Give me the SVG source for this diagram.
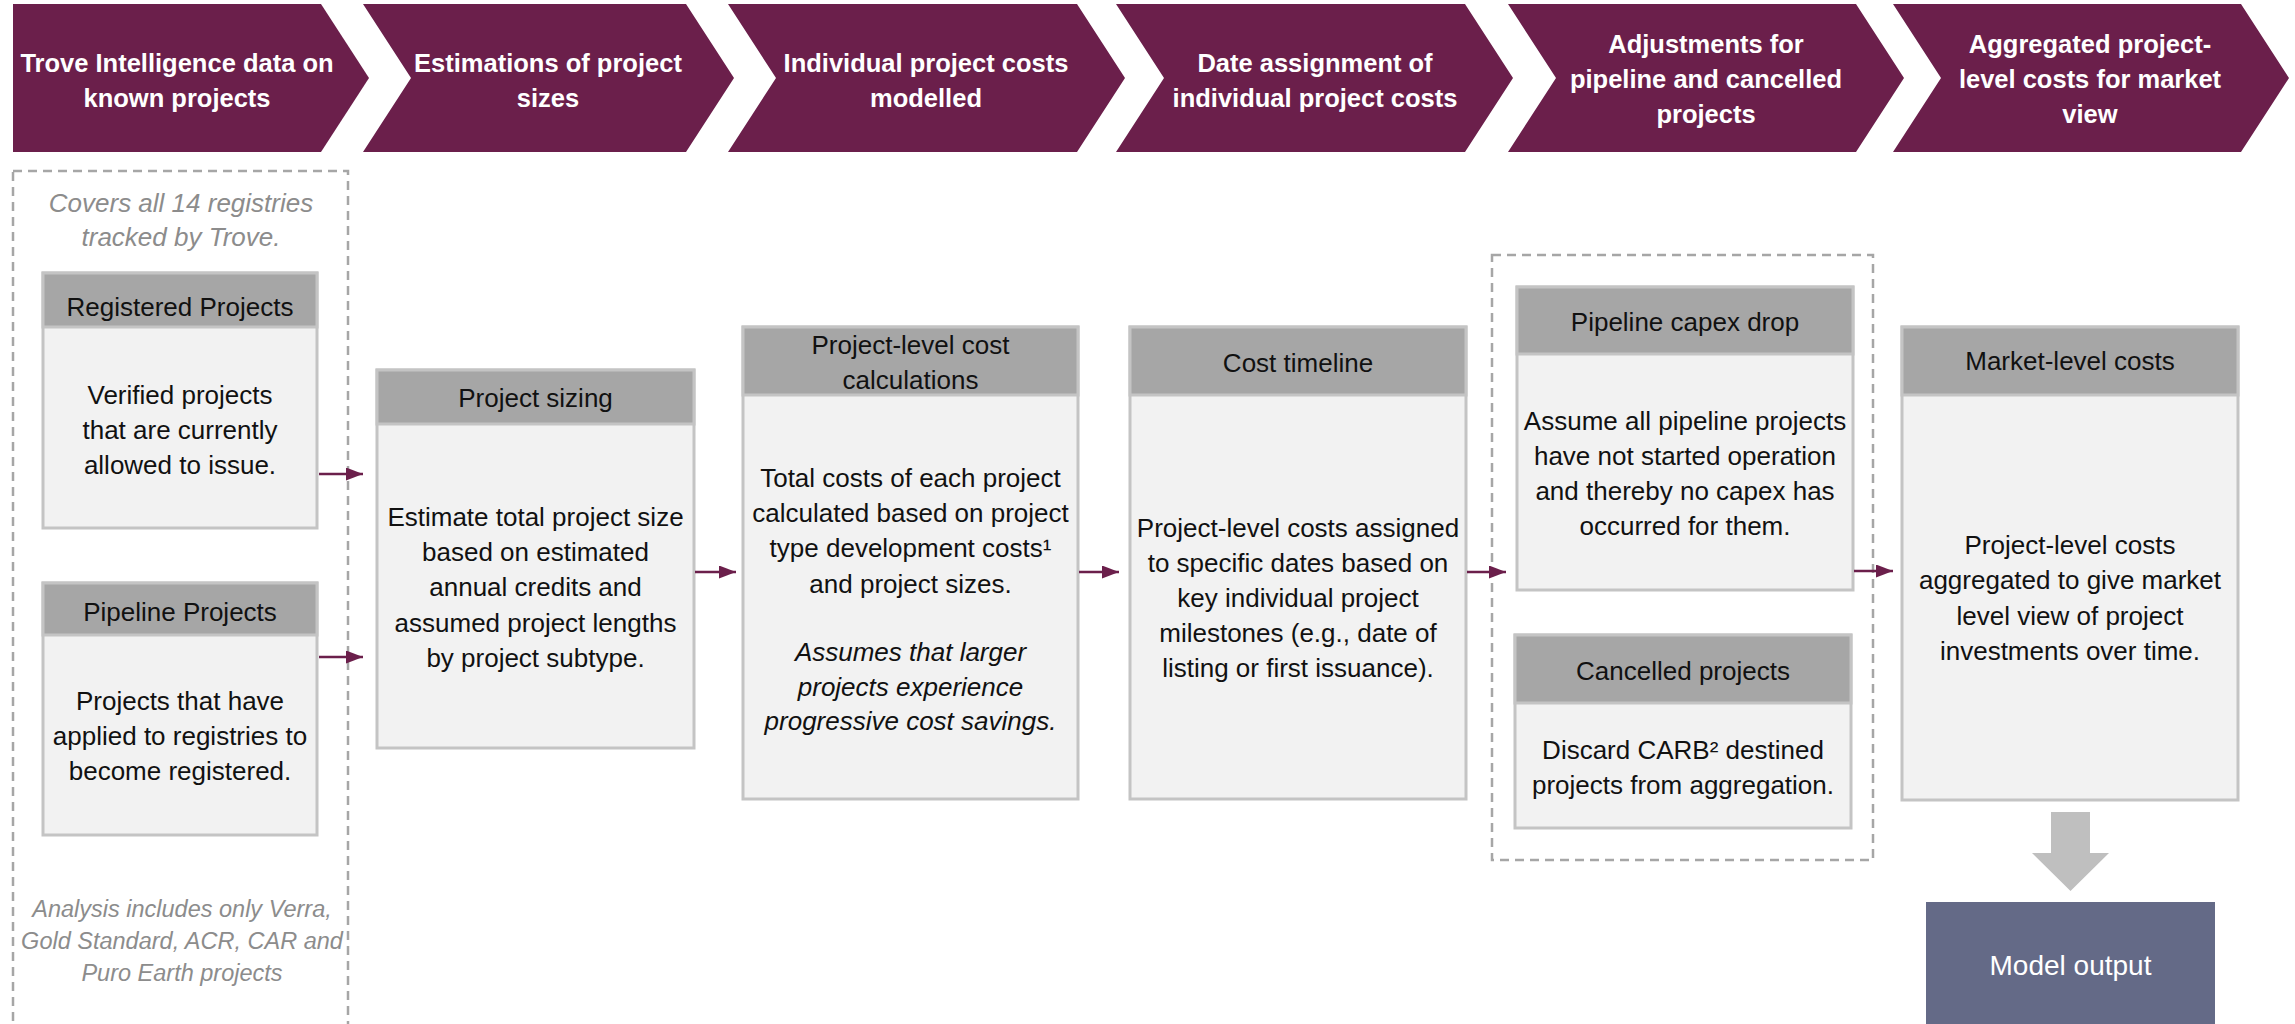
<svg xmlns="http://www.w3.org/2000/svg" width="2295" height="1024" viewBox="0 0 2295 1024">
<defs>
<style>
.chev{fill:#6b1f4b}
.ct{font-family:"Liberation Sans",Arial,sans-serif;font-weight:bold;font-size:25.5px;fill:#ffffff;text-anchor:middle}
.body{fill:#f2f2f2;stroke:#c4c4c4;stroke-width:3}
.head{fill:#a6a6a6;stroke:#c4c4c4;stroke-width:3}
.t{font-family:"Liberation Sans",Arial,sans-serif;font-size:26px;fill:#111111;text-anchor:middle}
.ti{font-family:"Liberation Sans",Arial,sans-serif;font-size:26px;font-style:italic;fill:#111111;text-anchor:middle}
.tg{font-family:"Liberation Sans",Arial,sans-serif;font-size:26px;font-style:italic;fill:#8c8c8c;text-anchor:middle}
.tgs{font-family:"Liberation Sans",Arial,sans-serif;font-size:23.5px;font-style:italic;fill:#8c8c8c;text-anchor:middle}
.dash{fill:none;stroke:#a6a6a6;stroke-width:2.5;stroke-dasharray:9 6}
.conn{stroke:#6b1f4b;stroke-width:2.5;fill:none}
</style>
<marker id="ah" markerUnits="userSpaceOnUse" markerWidth="17" markerHeight="13" refX="17" refY="6.5" orient="auto">
<path d="M0,0 L17,6.5 L0,13 z" fill="#6b1f4b"/>
</marker>
</defs>
<rect width="2295" height="1024" fill="#ffffff"/>

<g id="chevron1">
<polygon class="chev" points="13,4 321,4 369,78 321,152 13,152"/>
<text class="ct" x="177" y="72">Trove Intelligence data on</text>
<text class="ct" x="177" y="107">known projects</text>
</g>
<g id="chevron2">
<polygon class="chev" points="363,4 686,4 734,78 686,152 363,152 411,78"/>
<text class="ct" x="548" y="72">Estimations of project</text>
<text class="ct" x="548" y="107">sizes</text>
</g>
<g id="chevron3">
<polygon class="chev" points="728,4 1077,4 1125,78 1077,152 728,152 776,78"/>
<text class="ct" x="926" y="72">Individual project costs</text>
<text class="ct" x="926" y="107">modelled</text>
</g>
<g id="chevron4">
<polygon class="chev" points="1116,4 1465,4 1513,78 1465,152 1116,152 1164,78"/>
<text class="ct" x="1315" y="72">Date assignment of</text>
<text class="ct" x="1315" y="107">individual project costs</text>
</g>
<g id="chevron5">
<polygon class="chev" points="1508,4 1856,4 1904,78 1856,152 1508,152 1556,78"/>
<text class="ct" x="1706" y="53">Adjustments for</text>
<text class="ct" x="1706" y="88">pipeline and cancelled</text>
<text class="ct" x="1706" y="123">projects</text>
</g>
<g id="chevron6">
<polygon class="chev" points="1893,4 2241,4 2289,78 2241,152 1893,152 1941,78"/>
<text class="ct" x="2090" y="53">Aggregated project-</text>
<text class="ct" x="2090" y="88">level costs for market</text>
<text class="ct" x="2090" y="123">view</text>
</g>

<g id="group-sources">
<rect class="dash" x="13" y="171" width="335" height="870"/>
<text class="tg" x="181" y="212">Covers all 14 registries</text>
<text class="tg" x="181" y="246">tracked by Trove.</text>
<text class="tgs" x="182" y="917">Analysis includes only Verra,</text>
<text class="tgs" x="182" y="949">Gold Standard, ACR, CAR and</text>
<text class="tgs" x="182" y="981">Puro Earth projects</text>
</g>

<g id="registered-projects">
<rect class="body" x="43" y="273" width="274" height="255"/>
<rect class="head" x="43" y="273" width="274" height="54"/>
<text class="t" x="180" y="316">Registered Projects</text>
<text class="t" x="180" y="404">Verified projects</text>
<text class="t" x="180" y="439">that are currently</text>
<text class="t" x="180" y="474">allowed to issue.</text>
</g>

<g id="pipeline-projects">
<rect class="body" x="43" y="583" width="274" height="252"/>
<rect class="head" x="43" y="583" width="274" height="52"/>
<text class="t" x="180" y="621">Pipeline Projects</text>
<text class="t" x="180" y="710">Projects that have</text>
<text class="t" x="180" y="745">applied to registries to</text>
<text class="t" x="180" y="780">become registered.</text>
</g>

<g id="project-sizing">
<rect class="body" x="377" y="370" width="317" height="378"/>
<rect class="head" x="377" y="370" width="317" height="54"/>
<text class="t" x="535.5" y="407">Project sizing</text>
<text class="t" x="535.5" y="526">Estimate total project size</text>
<text class="t" x="535.5" y="561">based on estimated</text>
<text class="t" x="535.5" y="596">annual credits and</text>
<text class="t" x="535.5" y="632">assumed project lengths</text>
<text class="t" x="535.5" y="667">by project subtype.</text>
</g>

<g id="cost-calculations">
<rect class="body" x="743" y="327" width="335" height="472"/>
<rect class="head" x="743" y="327" width="335" height="68"/>
<text class="t" x="910.5" y="354">Project-level cost</text>
<text class="t" x="910.5" y="389">calculations</text>
<text class="t" x="910.5" y="487">Total costs of each project</text>
<text class="t" x="910.5" y="522">calculated based on project</text>
<text class="t" x="910.5" y="557">type development costs¹</text>
<text class="t" x="910.5" y="593">and project sizes.</text>
<text class="ti" x="910.5" y="661">Assumes that larger</text>
<text class="ti" x="910.5" y="696">projects experience</text>
<text class="ti" x="910.5" y="730">progressive cost savings.</text>
</g>

<g id="cost-timeline">
<rect class="body" x="1130" y="327" width="336" height="472"/>
<rect class="head" x="1130" y="327" width="336" height="68"/>
<text class="t" x="1298" y="372">Cost timeline</text>
<text class="t" x="1298" y="537">Project-level costs assigned</text>
<text class="t" x="1298" y="572">to specific dates based on</text>
<text class="t" x="1298" y="607">key individual project</text>
<text class="t" x="1298" y="642">milestones (e.g., date of</text>
<text class="t" x="1298" y="677">listing or first issuance).</text>
</g>

<g id="group-adjustments">
<rect class="dash" x="1492" y="255" width="381" height="605"/>
</g>

<g id="pipeline-capex-drop">
<rect class="body" x="1517" y="287" width="336" height="303"/>
<rect class="head" x="1517" y="287" width="336" height="67"/>
<text class="t" x="1685" y="331">Pipeline capex drop</text>
<text class="t" x="1685" y="430">Assume all pipeline projects</text>
<text class="t" x="1685" y="465">have not started operation</text>
<text class="t" x="1685" y="500">and thereby no capex has</text>
<text class="t" x="1685" y="535">occurred for them.</text>
</g>

<g id="cancelled-projects">
<rect class="body" x="1515" y="635" width="336" height="193"/>
<rect class="head" x="1515" y="635" width="336" height="68"/>
<text class="t" x="1683" y="680">Cancelled projects</text>
<text class="t" x="1683" y="759">Discard CARB² destined</text>
<text class="t" x="1683" y="794">projects from aggregation.</text>
</g>

<g id="market-level-costs">
<rect class="body" x="1902" y="327" width="336" height="473"/>
<rect class="head" x="1902" y="327" width="336" height="68"/>
<text class="t" x="2070" y="370">Market-level costs</text>
<text class="t" x="2070" y="554">Project-level costs</text>
<text class="t" x="2070" y="589">aggregated to give market</text>
<text class="t" x="2070" y="625">level view of project</text>
<text class="t" x="2070" y="660">investments over time.</text>
</g>

<g id="model-output">
<rect x="1926" y="902" width="289" height="130" fill="#646a87"/>
<text x="2070.5" y="975" font-family="Liberation Sans, Arial, sans-serif" font-size="28" fill="#ffffff" text-anchor="middle">Model output</text>
</g>

<g id="connectors">
<line class="conn" x1="319" y1="474" x2="363" y2="474" marker-end="url(#ah)"/>
<line class="conn" x1="319" y1="657" x2="363" y2="657" marker-end="url(#ah)"/>
<line class="conn" x1="695" y1="572" x2="736" y2="572" marker-end="url(#ah)"/>
<line class="conn" x1="1079" y1="572" x2="1119" y2="572" marker-end="url(#ah)"/>
<line class="conn" x1="1467" y1="572" x2="1506" y2="572" marker-end="url(#ah)"/>
<line class="conn" x1="1854" y1="571" x2="1893" y2="571" marker-end="url(#ah)"/>
<polygon points="2051,812 2090,812 2090,853 2109,853 2070.5,891 2032,853 2051,853" fill="#bfbfbf"/>
</g>
</svg>
